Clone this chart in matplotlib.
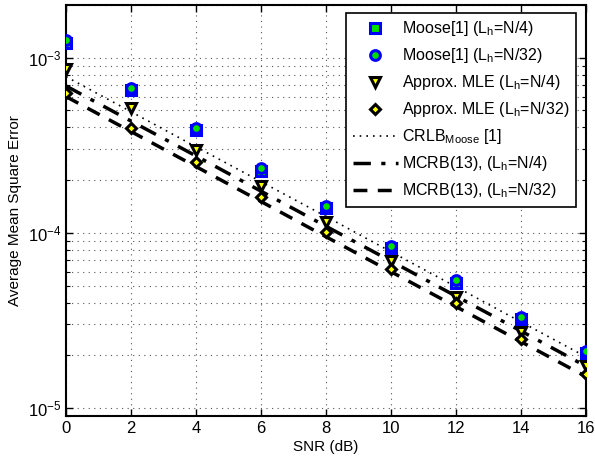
import matplotlib
matplotlib.use("Agg")
import matplotlib.pyplot as plt
from matplotlib.ticker import LogLocator, NullFormatter

plt.rcParams['font.family'] = ['Liberation Sans', 'DejaVu Sans']
plt.rcParams['mathtext.fontset'] = 'custom'
plt.rcParams['mathtext.rm'] = 'Liberation Sans'
plt.rcParams['mathtext.it'] = 'Liberation Sans:italic'
plt.rcParams['mathtext.bf'] = 'Liberation Sans:bold'

snr = [0, 2, 4, 6, 8, 10, 12, 14, 16]

moose_n4 = [1.22e-3, 6.55e-4, 3.88e-4, 2.27e-4, 1.39e-4, 8.25e-5, 5.2e-5, 3.22e-5, 2.06e-5]
moose_n32 = [1.26e-3, 6.74e-4, 3.99e-4, 2.34e-4, 1.43e-4, 8.47e-5, 5.35e-5, 3.3e-5, 2.12e-5]
mle_n4 = [8.65e-4, 5.14e-4, 2.97e-4, 1.85e-4, 1.15e-4, 6.95e-5, 4.33e-5, 2.73e-5, 1.73e-5]
mle_n32 = [6.31e-4, 3.95e-4, 2.53e-4, 1.61e-4, 1.01e-4, 6.2e-5, 3.97e-5, 2.48e-5, 1.56e-5]
crlb_moose = [7.8e-4, 4.92e-4, 3.10e-4, 1.96e-4, 1.24e-4, 7.8e-5, 4.92e-5, 3.10e-5, 1.96e-5]
mcrb_n4 = [6.9e-4, 4.35e-4, 2.75e-4, 1.73e-4, 1.09e-4, 6.9e-5, 4.35e-5, 2.75e-5, 1.73e-5]
mcrb_n32 = [6.0e-4, 3.79e-4, 2.39e-4, 1.51e-4, 9.5e-5, 6.0e-5, 3.79e-5, 2.39e-5, 1.51e-5]

fig = plt.figure(figsize=(5.95, 4.61), dpi=100)
ax = fig.add_axes([0.111, 0.0976, 0.874, 0.8914])

ax.set_yscale('log')
ax.plot(snr, moose_n4, linestyle='none', marker='s', markersize=6.5, markerfacecolor='#00e000',
        markeredgecolor='#0000ff', markeredgewidth=2.2, label='Moose[1] (L$_\\mathregular{h}$=N/4)', zorder=5)
ax.plot(snr, moose_n32, linestyle='none', marker='o', markersize=7, markerfacecolor='#00e000',
        markeredgecolor='#0000ff', markeredgewidth=2.2, label='Moose[1] (L$_\\mathregular{h}$=N/32)', zorder=6)
ax.plot(snr, mle_n4, linestyle='none', marker='v', markersize=7.5, markerfacecolor='#ffff00',
        markeredgecolor='black', markeredgewidth=2.2, label='Approx. MLE (L$_\\mathregular{h}$=N/4)', zorder=5)
ax.plot(snr, mle_n32, linestyle='none', marker='D', markersize=5.5, markerfacecolor='#ffff00',
        markeredgecolor='black', markeredgewidth=2.2, label='Approx. MLE (L$_\\mathregular{h}$=N/32)', zorder=6)
ax.plot(snr, crlb_moose, color='black', linestyle=(0, (1, 3)), linewidth=1.2,
        label='CRLB$_\\mathregular{Moose}$ [1]', zorder=4)
ax.plot(snr, mcrb_n4, color='black', linestyle=(0, (5, 3, 1.2, 3)), linewidth=2.5,
        label='MCRB(13), (L$_\\mathregular{h}$=N/4)', zorder=4)
ax.plot(snr, mcrb_n32, color='black', linestyle=(0, (4, 3)), linewidth=2.5,
        label='MCRB(13), (L$_\\mathregular{h}$=N/32)', zorder=4)

ax.set_xlim(0, 16)
ax.set_ylim(9e-6, 2e-3)
ax.set_xticks(snr)
ax.yaxis.set_major_locator(LogLocator(base=10, numticks=10))
ax.yaxis.set_minor_locator(LogLocator(base=10, subs=range(2, 10), numticks=20))
ax.yaxis.set_minor_formatter(NullFormatter())

ax.grid(True, which='major', axis='both', linestyle=(0, (1, 4)), color='#555555', linewidth=0.8)
ax.grid(True, which='minor', axis='y', linestyle=(0, (1, 4)), color='#555555', linewidth=0.8)

ax.tick_params(which='both', direction='in', top=True, right=True, labelsize=12)
ax.tick_params(which='major', length=5, width=1)
ax.tick_params(which='minor', length=3, width=0.8)
for s in ax.spines.values():
    s.set_linewidth(1.5)

ax.set_xlabel('SNR (dB)', fontsize=11, labelpad=3)
ax.set_ylabel('Average Mean Square Error', fontsize=11, labelpad=4)

leg = ax.legend(loc='upper right', bbox_to_anchor=(0.981, 0.981), borderaxespad=0, fontsize=11.5,
                frameon=True, fancybox=False, edgecolor='black', framealpha=1, handlelength=2.8,
                labelspacing=0.5, borderpad=0.4, handletextpad=0.3)
leg.get_frame().set_linewidth(1.2)

fig.savefig('out.png', dpi=100)
